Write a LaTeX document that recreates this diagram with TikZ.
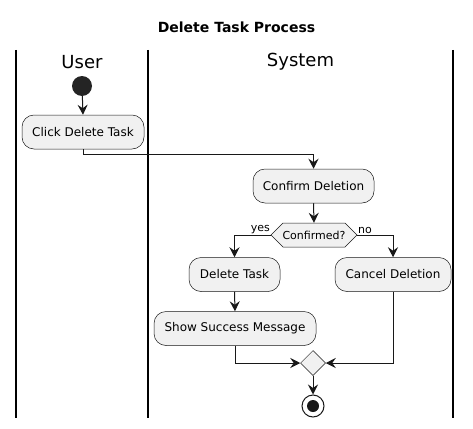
\documentclass[tikz,border=0pt]{standalone}
\usepackage{fontspec}
\setmainfont{DejaVu Sans}
\usetikzlibrary{arrows.meta,shapes.geometric}
\definecolor{boxfill}{HTML}{F1F1F1}
\definecolor{ink}{HTML}{181818}
\begin{document}
\begin{tikzpicture}[x=1pt,y=-1pt,
  act/.style={draw=ink,line width=0.5pt,fill=boxfill,rounded corners=12pt,minimum height=34pt,inner xsep=0pt,font=\fontsize{12}{14}\selectfont},
  flow/.style={draw=ink,line width=1pt,-{Stealth[length=10pt,width=10pt,inset=3.5pt]}},
  lane/.style={line width=1.5pt,black},
  lanehead/.style={font=\fontsize{18}{20}\selectfont},
  small/.style={font=\fontsize{11}{13}\selectfont,inner sep=1pt}]
\useasboundingbox (0,0) rectangle (473,428);
\fill[white] (0,0) rectangle (473,428);
\node[font=\bfseries\fontsize{14}{16}\selectfont] (title) at (236.5,27) {Delete Task Process};
\draw[lane] (16,50) -- (16,418);
\draw[lane] (148,50) -- (148,418);
\draw[lane] (453,50) -- (453,418);
\node[lanehead] (userlane) at (82,62) {User};
\node[lanehead] (syslane) at (300.5,62) {System};
% start
\node[circle,fill=ink!95,minimum size=20pt,inner sep=0pt] (start) at (82,86) {};
\node[act,minimum width=122pt] (click) at (83,132) {Click Delete Task};
\node[act,minimum width=121pt] (confirm) at (313.5,186) {Confirm Deletion};
% hexagon decision
\coordinate (decL) at (271,235);
\coordinate (decR) at (357,235);
\draw[draw=ink,line width=0.5pt,fill=boxfill] (decL) -- (283,223) -- (345,223) -- (decR) -- (345,247) -- (283,247) -- cycle;
\node[minimum width=62pt,minimum height=24pt,inner sep=0pt,font=\fontsize{11}{13}\selectfont] (dec) at (314,235) {Confirmed?};
\node[act,minimum width=91pt] (del) at (234.5,274.5) {Delete Task};
\node[act,minimum width=162pt] (show) at (235,328.5) {Show Success Message};
\node[act,minimum width=116pt] (cancel) at (393,274.5) {Cancel Deletion};
\node[diamond,draw=ink,line width=0.5pt,fill=boxfill,minimum width=25pt,minimum height=25pt,inner sep=0pt] (merge) at (313,363) {};
\node[circle,draw=ink,line width=1pt,fill=white,minimum size=22pt,inner sep=0pt] (stop) at (313,406) {};
\fill[ink] (stop.center) circle (6pt);
% connectors
\draw[flow] (start) -- (click.north);
\draw[flow] (click.south) -- ++(0,5) -| (confirm.north);
\draw[flow] (confirm.south) -- (dec.north);
\draw[flow] (decL) -| (del.north);
\draw[flow] (decR) -| (cancel.north);
\draw[flow] (del.south) -- (show.north);
\draw[flow] (show.south) |- (merge.west);
\draw[flow] (cancel.south) |- (merge.east);
\draw[flow] (merge.south) -- (stop.north);
\node[small,anchor=south east] (yeslbl) at (decL) {yes};
\node[small,anchor=south west] (nolbl) at (decR) {no};
\end{tikzpicture}
\end{document}
